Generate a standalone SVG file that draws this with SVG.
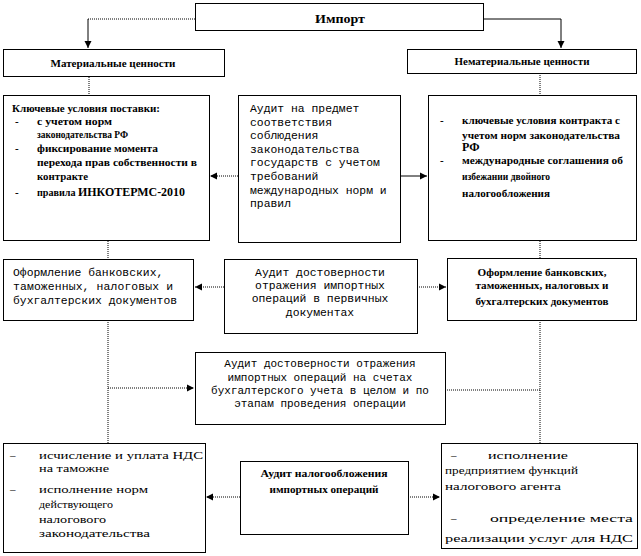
<svg xmlns="http://www.w3.org/2000/svg" width="641" height="556" viewBox="0 0 641 556">
<style>
.box{fill:#fff;stroke:#000;stroke-width:1}
.c{fill:none;stroke:#000;stroke-width:1}
.d{stroke-dasharray:1,1}
.tb{font-family:'Liberation Serif','DejaVu Serif','Times New Roman',serif;font-weight:bold;font-size:11px;fill:#000}
.tn{font-family:'Liberation Serif','DejaVu Serif','Times New Roman',serif;font-size:11px;fill:#000}
.m{font-family:'Liberation Mono','DejaVu Sans Mono','Courier New',monospace;font-size:11.4px;fill:#000}
.mid{text-anchor:middle}
</style>
<defs>
<marker id="ah" markerWidth="8" markerHeight="8" refX="7" refY="4" orient="auto" markerUnits="userSpaceOnUse">
<path d="M0,0.5 L7,4 L0,7.5 Z" fill="#000"/>
</marker>
</defs>
<rect width="641" height="556" fill="#fff"/>

<g id="connectors">
<path class="c d" d="M195,19 H88"/>
<path class="c" d="M88,19 V48" marker-end="url(#ah)"/>
<path class="c" d="M483,19 H561 V48" marker-end="url(#ah)"/>
<path class="c d" d="M89,77 V96"/>
<path class="c d" d="M540,73 V95"/>
<path class="c d" d="M238,176 H210" marker-end="url(#ah)"/>
<path class="c" d="M400,176 H427" marker-end="url(#ah)"/>
<path class="c d" d="M108,241 V259"/>
<path class="c d" d="M540,241 V258"/>
<path class="c d" d="M224,287 H195" marker-end="url(#ah)"/>
<path class="c d" d="M417,287 H446" marker-end="url(#ah)"/>
<path class="c d" d="M108,320 V443"/>
<path class="c d" d="M108,388 H194" marker-end="url(#ah)"/>
<path class="c d" d="M540,320 V443"/>
<path class="c d" d="M445,390 H540"/>
<path class="c d" d="M240,497 H206" marker-end="url(#ah)"/>
<path class="c d" d="M408,497 H440" marker-end="url(#ah)"/>
</g>

<g id="import">
<rect class="box" x="195.5" y="3.5" width="288" height="27"/>
<text class="tb mid" x="340" y="23" style="font-size:13px" textLength="50" lengthAdjust="spacingAndGlyphs">Импорт</text>
</g>

<g id="material">
<rect class="box" x="3.5" y="49.5" width="221" height="27"/>
<text class="tb mid" x="113" y="67" textLength="125" lengthAdjust="spacingAndGlyphs">Материальные ценности</text>
</g>

<g id="nonmaterial">
<rect class="box" x="407.5" y="49.5" width="229" height="24"/>
<text class="tb mid" x="522" y="65" textLength="135" lengthAdjust="spacingAndGlyphs">Нематериальные ценности</text>
</g>

<g id="supply-terms">
<rect class="box" x="3.5" y="95.5" width="206" height="145"/>
<text class="tb" x="12" y="112" textLength="148" lengthAdjust="spacingAndGlyphs">Ключевые условия поставки:</text>
<text class="tb" x="15" y="125">-</text>
<text class="tb" x="37" y="125" textLength="75" lengthAdjust="spacingAndGlyphs">с учетом норм</text>
<text class="tb" x="37" y="138" textLength="91" lengthAdjust="spacingAndGlyphs">законодательства РФ</text>
<text class="tb" x="15" y="152">-</text>
<text class="tb" x="37" y="152" textLength="121" lengthAdjust="spacingAndGlyphs">фиксирование момента</text>
<text class="tb" x="37" y="166" textLength="160" lengthAdjust="spacingAndGlyphs">перехода прав собственности в</text>
<text class="tb" x="37" y="180" textLength="51" lengthAdjust="spacingAndGlyphs">контракте</text>
<text class="tb" x="15" y="196">-</text>
<text class="tb" x="37" y="196" textLength="148" lengthAdjust="spacingAndGlyphs">правила <tspan style="font-size:13px">ИНКОТЕРМС-2010</tspan></text>
</g>

<g id="audit-compliance">
<rect class="box" x="238.5" y="95.5" width="162" height="147"/>
<text class="m" x="250" y="112">Аудит на предмет</text>
<text class="m" x="250" y="125.6">соответствия</text>
<text class="m" x="250" y="139.2">соблюдения</text>
<text class="m" x="250" y="152.8">законодательства</text>
<text class="m" x="250" y="166.4">государств с учетом</text>
<text class="m" x="250" y="180">требований</text>
<text class="m" x="250" y="193.6">международных норм и</text>
<text class="m" x="250" y="207.2">правил</text>
</g>

<g id="contract-terms">
<rect class="box" x="428.5" y="95.5" width="208" height="145"/>
<text class="tb" x="440" y="124">-</text>
<text class="tb" x="462" y="124" textLength="158" lengthAdjust="spacingAndGlyphs">ключевые условия контракта с</text>
<text class="tb" x="462" y="139" textLength="158" lengthAdjust="spacingAndGlyphs">учетом норм законодательства</text>
<text class="tb" x="462" y="151" style="font-size:12px">РФ</text>
<text class="tb" x="440" y="164">-</text>
<text class="tb" x="462" y="164" textLength="161" lengthAdjust="spacingAndGlyphs">международные соглашения об</text>
<text class="tb" x="462" y="180" textLength="88" lengthAdjust="spacingAndGlyphs">избежании двойного</text>
<text class="tb" x="462" y="197" textLength="88" lengthAdjust="spacingAndGlyphs">налогообложения</text>
</g>

<g id="docs-left">
<rect class="box" x="3.5" y="259.5" width="190" height="61"/>
<text class="m" x="13" y="276">Оформление банковских,</text>
<text class="m" x="13" y="290" textLength="160">таможенных, налоговых и</text>
<text class="m" x="13" y="304">бухгалтерских документов</text>
</g>

<g id="audit-primary">
<rect class="box" x="224.5" y="259.5" width="193" height="74"/>
<text class="m mid" x="320" y="276">Аудит достоверности</text>
<text class="m mid" x="320" y="289">отражения импортных</text>
<text class="m mid" x="320" y="302">операций в первичных</text>
<text class="m mid" x="320" y="316">документах</text>
</g>

<g id="docs-right">
<rect class="box" x="447.5" y="258.5" width="189" height="62"/>
<text class="tb mid" x="542" y="276" textLength="129" lengthAdjust="spacingAndGlyphs">Оформление банковских,</text>
<text class="tb mid" x="542" y="289" textLength="133" lengthAdjust="spacingAndGlyphs">таможенных,  налоговых и</text>
<text class="tb mid" x="542" y="305" textLength="133" lengthAdjust="spacingAndGlyphs">бухгалтерских документов</text>
</g>

<g id="audit-accounts">
<rect class="box" x="195.5" y="352.5" width="250" height="72"/>
<text class="m mid" x="320" y="367" style="font-size:11px">Аудит достоверности отражения</text>
<text class="m mid" x="320" y="381" style="font-size:11px">импортных операций на счетах</text>
<text class="m mid" x="320" y="394" style="font-size:11px">бухгалтерского учета в целом и по</text>
<text class="m mid" x="320" y="407" style="font-size:11px">этапам проведения операции</text>
</g>

<g id="vat-customs">
<rect class="box" x="3.5" y="443.5" width="202" height="109"/>
<text class="tn" x="10" y="459">–</text>
<text class="tn" x="39" y="459" textLength="164" lengthAdjust="spacingAndGlyphs">исчисление и уплата НДС</text>
<text class="tn" x="39" y="472" textLength="70" lengthAdjust="spacingAndGlyphs">на таможне</text>
<text class="tn" x="10" y="493">–</text>
<text class="tn" x="39" y="493" textLength="109" lengthAdjust="spacingAndGlyphs">исполнение норм</text>
<text class="tn" x="39" y="508" textLength="74" lengthAdjust="spacingAndGlyphs">действующего</text>
<text class="tn" x="39" y="523" textLength="67" lengthAdjust="spacingAndGlyphs">налогового</text>
<text class="tn" x="39" y="537" textLength="111" lengthAdjust="spacingAndGlyphs">законодательства</text>
</g>

<g id="audit-tax">
<rect class="box" x="240.5" y="461.5" width="168" height="73"/>
<text class="tb mid" x="324" y="477" textLength="127" lengthAdjust="spacingAndGlyphs">Аудит налогообложения</text>
<text class="tb mid" x="324" y="493" textLength="109" lengthAdjust="spacingAndGlyphs">импортных операций</text>
</g>

<g id="tax-agent">
<rect class="box" x="441.5" y="443.5" width="196" height="105"/>
<text class="tn" x="451" y="459">–</text>
<text class="tn" x="488" y="459" textLength="80" lengthAdjust="spacingAndGlyphs">исполнение</text>
<text class="tn" x="445" y="474" textLength="133" lengthAdjust="spacingAndGlyphs">предприятием функций</text>
<text class="tn" x="445" y="490" textLength="116" lengthAdjust="spacingAndGlyphs">налогового агента</text>
<text class="tn" x="451" y="522">–</text>
<text class="tn" x="490" y="522" textLength="143" lengthAdjust="spacingAndGlyphs">определение места</text>
<text class="tn" x="445" y="542" textLength="188" lengthAdjust="spacingAndGlyphs">реализации услуг для НДС</text>
</g>
</svg>
